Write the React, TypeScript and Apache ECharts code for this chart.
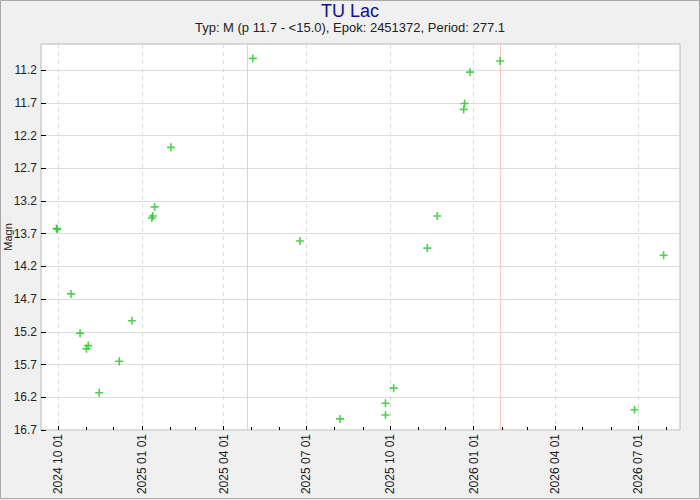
import React, { useEffect, useRef } from "react";
import * as echarts from "echarts";

const titleText = "TU Lac";
const subtitleText = "Typ: M (p 11.7 - <15.0), Epok: 2451372, Period: 277.1";

const obsDates = [
  "2024-09-29", "2024-09-30", "2024-10-15", "2024-10-25", "2024-11-01", "2024-11-03",
  "2024-11-15", "2024-12-07", "2024-12-21", "2025-01-12", "2025-01-13", "2025-01-15",
  "2025-02-02", "2025-05-03", "2025-06-24", "2025-08-07", "2025-09-26", "2025-09-26",
  "2025-10-05", "2025-11-11", "2025-11-22", "2025-12-21", "2025-12-22", "2025-12-28",
  "2026-01-30", "2026-06-27", "2026-07-29",
];
const magnitudes = [
  13.62, 13.63, 14.62, 15.22, 15.46, 15.41,
  16.13, 15.65, 15.03, 13.46, 13.43, 13.29,
  12.38, 11.02, 13.81, 16.53, 16.29, 16.47,
  16.06, 13.92, 13.43, 11.8, 11.71, 11.23,
  11.06, 16.39, 14.03,
];
const maximaDates = ["2025-04-27", "2026-01-30"];
const quarterTicks = [
  "2024-10-01", "2025-01-01", "2025-04-01", "2025-07-01",
  "2025-10-01", "2026-01-01", "2026-04-01", "2026-07-01",
];
const xRange = ["2024-09-12", "2026-08-16"];
const magTicks = [11.2, 11.7, 12.2, 12.7, 13.2, 13.7, 14.2, 14.7, 15.2, 15.7, 16.2, 16.7];
const magRange = [10.8, 16.7];

const ts = (s: string) => {
  const [y, m, d] = s.split("-").map(Number);
  return Date.UTC(y, m - 1, d);
};
const pad = (n: number) => (n < 10 ? "0" + n : "" + n);
const fmtDate = (v: number) => {
  const d = new Date(v);
  return `${d.getUTCFullYear()} ${pad(d.getUTCMonth() + 1)} ${pad(d.getUTCDate())}`;
};

const monthTicks: number[] = [];
for (let y = 2024, m = 9; y < 2026 || m <= 7; ) {
  monthTicks.push(Date.UTC(y, m, 1));
  m++;
  if (m > 11) { m = 0; y++; }
}

const FONT = "'Liberation Sans', Arial, sans-serif";

export default function App() {
  const ref = useRef<HTMLDivElement>(null);
  useEffect(() => {
    if (!ref.current) return;
    const chart = echarts.init(ref.current, undefined, { renderer: "svg" });
    const xMin = ts(xRange[0]);
    const xMax = ts(xRange[1]);
    chart.setOption({
      animation: false,
      backgroundColor: "#f0f0f0",
      textStyle: { fontFamily: FONT },
      title: [
        {
          text: titleText,
          left: "center",
          top: 2,
          padding: 0,
          textStyle: { fontSize: 18, fontWeight: "normal", color: "#10108f", fontFamily: FONT },
        },
        {
          text: subtitleText,
          left: "center",
          top: 21,
          padding: 0,
          textStyle: { fontSize: 13, fontWeight: "normal", color: "#222", fontFamily: FONT },
        },
      ],
      graphic: [
        {
          type: "rect",
          shape: { x: 0.5, y: 0.5, width: 699, height: 498 },
          style: { fill: "none", stroke: "#a8a8a8", lineWidth: 1 },
          silent: true,
        },
      ],
      grid: {
        left: 41,
        right: 20,
        top: 44,
        bottom: 70,
        outerBoundsMode: "none",
        containLabel: false,
        show: true,
        backgroundColor: "#ffffff",
        borderColor: "#b8b8b8",
        borderWidth: 1,
      },
      xAxis: [
        {
          type: "value",
          min: xMin,
          max: xMax,
          position: "bottom",
          axisLine: { show: false },
          axisTick: {
            show: true,
            inside: true,
            length: 4,
            lineStyle: { color: "#000" },
            customValues: quarterTicks.map(ts),
          },
          axisLabel: {
            show: true,
            rotate: 90,
            margin: 4,
            fontSize: 12,
            color: "#222",
            fontFamily: FONT,
            customValues: quarterTicks.map(ts),
            formatter: (v: number) => fmtDate(v),
            hideOverlap: false,
          },
          splitLine: {
            show: true,
            lineStyle: { color: "#dcdcdc", type: [4, 4], width: 1 },
          },
        },
        {
          type: "value",
          min: xMin,
          max: xMax,
          position: "bottom",
          axisLine: { show: false },
          axisTick: {
            show: true,
            inside: true,
            length: 3,
            lineStyle: { color: "#000" },
            customValues: monthTicks,
          },
          axisLabel: { show: false },
          splitLine: { show: false },
        },
      ],
      yAxis: {
        type: "value",
        inverse: true,
        min: magRange[0],
        max: magRange[1],
        name: "Magn",
        nameLocation: "middle",
        nameRotate: 90,
        nameGap: 28,
        nameMoveOverlap: false,
        nameTextStyle: { fontSize: 11, color: "#222", fontFamily: FONT },
        axisLine: { show: false },
        axisTick: {
          show: true,
          inside: true,
          length: 5,
          lineStyle: { color: "#000" },
          customValues: magTicks,
        },
        axisLabel: {
          show: true,
          margin: 4,
          fontSize: 12,
          color: "#222",
          fontFamily: FONT,
          customValues: magTicks,
          formatter: (v: number) => v.toFixed(1),
        },
        splitLine: { show: true, lineStyle: { color: "#dcdcdc", width: 1 } },
      },
      series: [
        {
          type: "line",
          data: [],
          z: 1,
          markLine: {
            silent: true,
            symbol: ["none", "none"],
            label: { show: false },
            lineStyle: { color: "#ffc4c4", type: "solid", width: 1 },
            data: maximaDates.map((d) => ({ xAxis: ts(d) })),
          },
        },
        {
          type: "scatter",
          xAxisIndex: 0,
          symbol: "path://M4,0L4,8M0,4L8,4",
          symbolSize: 8,
          itemStyle: { color: "rgba(0,0,0,0)", borderColor: "#24c424", borderWidth: 1.6 },
          data: obsDates.map((d, i) => [ts(d), magnitudes[i]]),
          z: 5,
        },
      ],
    });
    return () => chart.dispose();
  }, []);
  return (
    <div
      ref={ref}
      style={{ position: "fixed", left: 0, top: 0, width: 700, height: 500 }}
    />
  );
}
